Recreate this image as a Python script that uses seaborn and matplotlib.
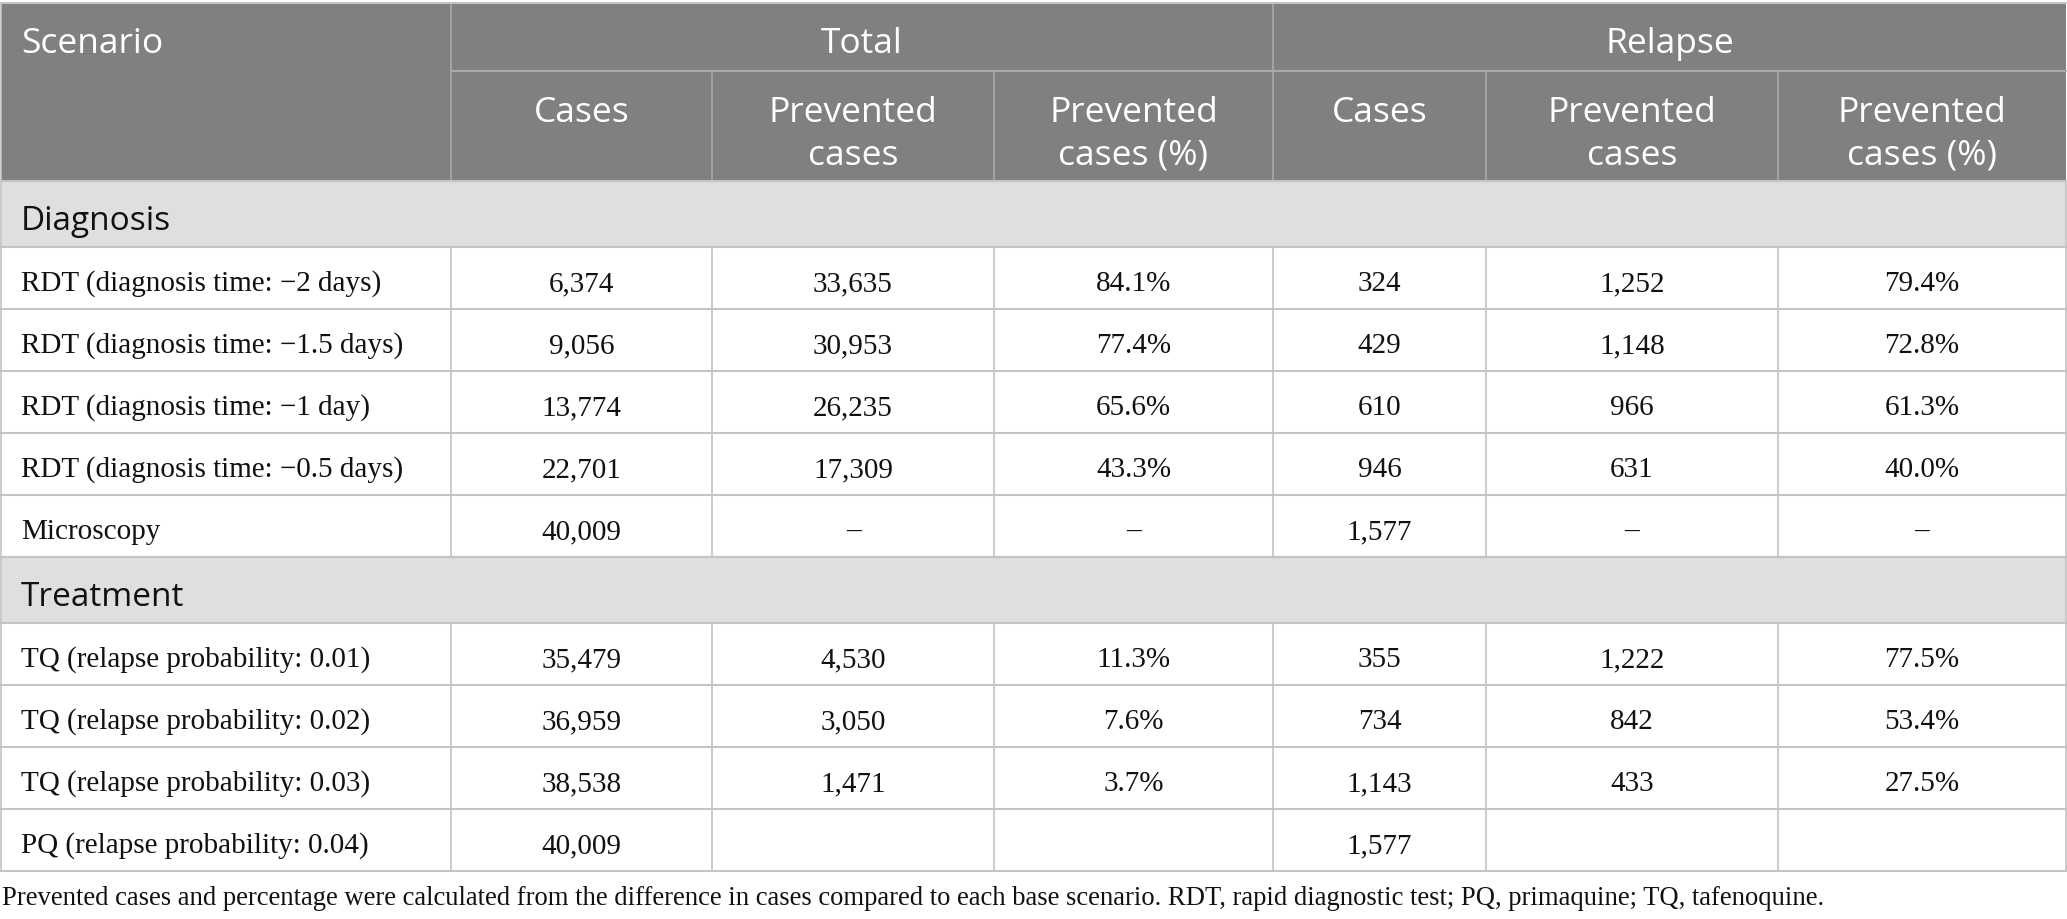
import matplotlib
matplotlib.use("Agg")
import matplotlib.pyplot as plt
from matplotlib.patches import Rectangle
import seaborn as sns

sns.set_theme(style="white")

# ---- data ----
group_headers = ["Total", "Relapse"]
sub_headers = [["Cases"], ["Prevented", "cases"], ["Prevented", "cases (%)"]]
sections = ["Diagnosis", "Treatment"]

diag_scenarios = ["RDT (diagnosis time: \u22122 days)",
                  "RDT (diagnosis time: \u22121.5 days)",
                  "RDT (diagnosis time: \u22121 day)",
                  "RDT (diagnosis time: \u22120.5 days)",
                  "Microscopy"]
diag_total_cases = ["6,374", "9,056", "13,774", "22,701", "40,009"]
diag_total_prev = ["33,635", "30,953", "26,235", "17,309", "\u2013"]
diag_total_pct = ["84.1%", "77.4%", "65.6%", "43.3%", "\u2013"]
diag_rel_cases = ["324", "429", "610", "946", "1,577"]
diag_rel_prev = ["1,252", "1,148", "966", "631", "\u2013"]
diag_rel_pct = ["79.4%", "72.8%", "61.3%", "40.0%", "\u2013"]

treat_scenarios = ["TQ (relapse probability: 0.01)",
                   "TQ (relapse probability: 0.02)",
                   "TQ (relapse probability: 0.03)",
                   "PQ (relapse probability: 0.04)"]
treat_total_cases = ["35,479", "36,959", "38,538", "40,009"]
treat_total_prev = ["4,530", "3,050", "1,471", ""]
treat_total_pct = ["11.3%", "7.6%", "3.7%", ""]
treat_rel_cases = ["355", "734", "1,143", "1,577"]
treat_rel_prev = ["1,222", "842", "433", ""]
treat_rel_pct = ["77.5%", "53.4%", "27.5%", ""]

footnote = ("Prevented cases and percentage were calculated from the difference in cases "
            "compared to each base scenario. RDT, rapid diagnostic test; PQ, primaquine; TQ, tafenoquine.")

# ---- layout ----
W, H = 2067, 920
col_x = [1, 451, 712, 994, 1273, 1486, 1778, 2066]
hdr_top, hdr_mid, hdr_bot = 4, 72, 182
row_h = 62
band_h = 66

HEADER_BG = "#7f807f"
HEADER_LINE = "#a9aaa9"
BAND_BG = "#e0dfe0"
GRID = "#c4c4c4"
SANS = ["Open Sans", "DejaVu Sans"]
SERIF = ["Liberation Serif", "DejaVu Serif"]
FS_HDR = 25.5
FS_BAND = 24
FS_BODY = 21
FS_NOTE = 19.2

fig = plt.figure(figsize=(W / 100, H / 100), dpi=100)
ax = fig.add_axes([0, 0, 1, 1])
ax.set_xlim(0, W)
ax.set_ylim(H, 0)
ax.axis("off")

# header background
ax.add_patch(Rectangle((col_x[0], hdr_top), col_x[-1] - col_x[0], hdr_bot - hdr_top,
                       facecolor=HEADER_BG, edgecolor="none"))
lw_h = 1.2
ax.plot([col_x[1], col_x[1]], [hdr_top, hdr_bot], color=HEADER_LINE, lw=lw_h)
ax.plot([col_x[4], col_x[4]], [hdr_top, hdr_bot], color=HEADER_LINE, lw=lw_h)
for c in [2, 3, 5, 6]:
    ax.plot([col_x[c], col_x[c]], [hdr_mid, hdr_bot], color=HEADER_LINE, lw=lw_h)
ax.plot([col_x[1], col_x[-1]], [hdr_mid, hdr_mid], color=HEADER_LINE, lw=lw_h + 0.4)

ax.text(21, 53, "Scenario", color="white", fontsize=FS_HDR,
        family=SANS, ha="left", va="baseline")
for g, name in enumerate(group_headers):
    x0, x1 = col_x[1 + 3 * g], col_x[4 + 3 * g]
    ax.text((x0 + x1) / 2, 53, name, color="white", fontsize=FS_HDR,
            family=SANS, ha="center", va="baseline")
    for k, lines in enumerate(sub_headers):
        c = 1 + 3 * g + k
        xc = (col_x[c] + col_x[c + 1]) / 2
        for li, line in enumerate(lines):
            ax.text(xc, 122 + 43 * li, line, color="white", fontsize=FS_HDR,
                    family=SANS, ha="center", va="baseline")

# body
y = hdr_bot
blocks = [
    (sections[0], diag_scenarios, [diag_total_cases, diag_total_prev, diag_total_pct,
                                   diag_rel_cases, diag_rel_prev, diag_rel_pct]),
    (sections[1], treat_scenarios, [treat_total_cases, treat_total_prev, treat_total_pct,
                                    treat_rel_cases, treat_rel_prev, treat_rel_pct]),
]
hlines = []
for sec, scen, cols in blocks:
    ax.add_patch(Rectangle((col_x[0], y), col_x[-1] - col_x[0], band_h,
                           facecolor=BAND_BG, edgecolor="none"))
    ax.text(21, y + 48, sec, color="#111111", fontsize=FS_BAND, family=SANS,
            ha="left", va="baseline")
    ax.plot([col_x[0], col_x[0]], [y, y + band_h], color=GRID, lw=1.2)
    ax.plot([col_x[-1], col_x[-1]], [y, y + band_h], color=GRID, lw=1.2)
    hlines.append(y)
    y += band_h
    hlines.append(y)
    for r, name in enumerate(scen):
        yb = y + 43
        ax.text(21, yb, name, color="#111111", fontsize=FS_BODY, family=SERIF,
                ha="left", va="baseline")
        for c, vals in enumerate(cols):
            xc = (col_x[c + 1] + col_x[c + 2]) / 2
            ax.text(xc, yb, vals[r], color="#111111", fontsize=FS_BODY, family=SERIF,
                    ha="center", va="baseline")
        for cx in col_x:
            ax.plot([cx, cx], [y, y + row_h], color=GRID, lw=1.2)
        y += row_h
        hlines.append(y)

for hy in hlines:
    ax.plot([col_x[0], col_x[-1]], [hy, hy], color=GRID, lw=1.5)
ax.plot([col_x[0], col_x[0]], [hdr_top, hdr_bot], color=GRID, lw=1.2)
ax.plot([col_x[0], col_x[-1]], [hdr_top, hdr_top], color=GRID, lw=1.5)

ax.text(2, 905, footnote, color="#111111", fontsize=FS_NOTE, family=SERIF,
        ha="left", va="baseline")

fig.savefig("out.png", dpi=100)
